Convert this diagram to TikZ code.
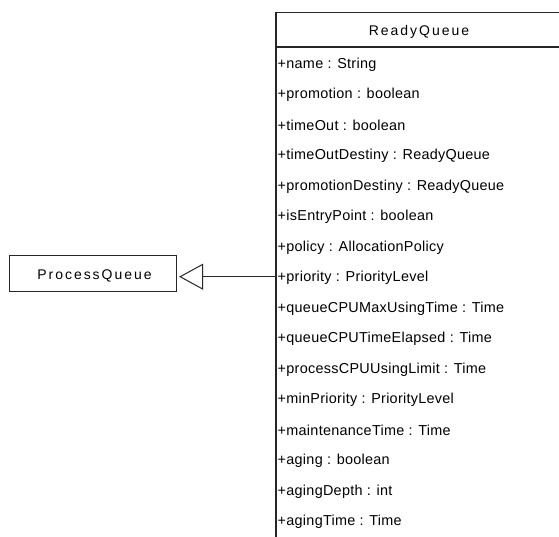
\documentclass[tikz,border=0pt]{standalone}
\usepackage{fontspec}
\setmainfont{Liberation Sans}
\newfontfamily\headfont[LetterSpace=14]{Liberation Sans}
\newfontfamily\attrfont[LetterSpace=2]{Liberation Sans}
\usetikzlibrary{arrows.meta}
\tikzset{
  umlline/.style={draw=black!85, line width=1pt},
  attr/.style={anchor=west, inner sep=0pt, font=\attrfont\fontsize{14.4}{16}\selectfont},
  classname/.style={inner sep=0pt, font=\headfont\fontsize{14}{16}\selectfont},
}
\begin{document}
\begin{tikzpicture}[x=1pt, y=-1pt]
\useasboundingbox (0,0) rectangle (559,536);
\clip (0,0) rectangle (559,536);
\fill[white] (0,0) rectangle (559,536);

% ProcessQueue class
\node[umlline, minimum width=167pt, minimum height=36pt, inner sep=0pt] (pq) at (93.1,273.7) {};
\node[classname] (pqname) at (94.5,276) {ProcessQueue};

% ReadyQueue class (runs past the right and bottom edges)
\node[umlline, minimum width=290pt, minimum height=540pt, inner sep=0pt, anchor=north west] (rq) at (275.5,11.5) {};
\draw[draw=black!85, line width=2pt] (rq.north west) -- (rq.south west);
\coordinate (sepL) at (275.5,46.5);
\draw[draw=black!85, line width=2pt] (sepL) -- (sepL -| rq.east);
\node[classname] (rqname) at (419,31.5) {ReadyQueue};

\foreach \i/\t in {
  0/{+name : String},
  1/{+promotion : boolean},
  2/{+timeOut : boolean},
  3/{+timeOutDestiny : ReadyQueue},
  4/{+promotionDestiny : ReadyQueue},
  5/{+isEntryPoint : boolean},
  6/{+policy : AllocationPolicy},
  7/{+priority : PriorityLevel},
  8/{+queueCPUMaxUsingTime : Time},
  9/{+queueCPUTimeElapsed : Time},
  10/{+processCPUUsingLimit : Time},
  11/{+minPriority : PriorityLevel},
  12/{+maintenanceTime : Time},
  13/{+aging : boolean},
  14/{+agingDepth : int},
  15/{+agingTime : Time}}
  \node[attr] (a\i) at (277.5, 64.5+30.5*\i) {\t};

% Generalization: ReadyQueue inherits from ProcessQueue
\coordinate (gen) at (rq.west |- 0,276.7);
\draw[umlline, -{Triangle[open, length=24pt, width=26pt, line width=1pt]}, shorten >=2pt] (gen) -- (pq.east |- gen);
\end{tikzpicture}
\end{document}
